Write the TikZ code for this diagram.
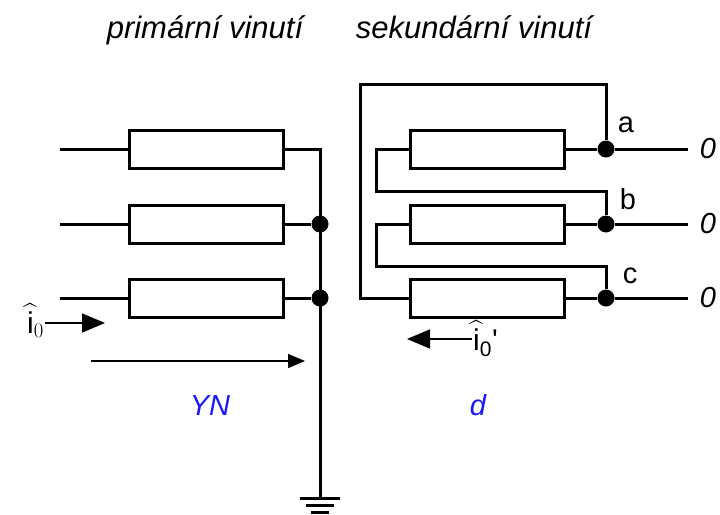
\documentclass[tikz,border=0pt]{standalone}
\usepackage{amsmath}
\usepackage{fontspec}
\setmainfont{Liberation Sans}
\usetikzlibrary{arrows.meta}
\definecolor{labelblue}{RGB}{25,25,245}

\tikzset{
  res/.style={draw, line width=3pt, minimum width=154pt, minimum height=38pt, inner sep=0pt},
  dot/.style={circle, fill, inner sep=0pt, minimum size=17pt},
  wire/.style={line width=3pt},
  flow/.style={line width=1.5pt, -{Triangle[length=23pt,width=19pt]}},
  thinflow/.style={line width=1.3pt, -{Triangle[length=17pt,width=14pt]}},
  lbl/.style={font=\fontsize{29}{34}\selectfont},
  ttl/.style={font=\fontsize{31}{36}\selectfont\itshape},
  cur/.style={font=\fontsize{30}{34}\selectfont, inner sep=1pt},
}

\begin{document}
\begin{tikzpicture}[x=1pt, y=-1pt]
    \useasboundingbox (0,0) rectangle (720,514);
    \node[ttl, anchor=base] (tprim) at (205,38) {primární vinutí};
    \node[ttl, anchor=base] (tsek) at (474,38) {sekundární vinutí};

    % primary winding YN
    \foreach \k/\y in {1/149,2/224,3/298} {
      \node[res] (p\k) at (206,\y) {};
      \coordinate (in\k) at (60,\y);
      \draw[wire] (in\k) -- (p\k.west);
    }
    \coordinate (n1) at (320,149);
    \node[dot] (n2) at (320,224) {};
    \node[dot] (n3) at (320,298) {};
    \coordinate (gnd) at (320,498);
    \draw[wire] (p1.east) -- (n1) -- (gnd);
    \draw[wire] (p2.east) -- (n2);
    \draw[wire] (p3.east) -- (n3);
    \draw[wire] ([xshift=-20pt]gnd) -- ([xshift=20pt]gnd);
    \draw[wire] ([xshift=-14pt,yshift=-7.5pt]gnd) -- ([xshift=14pt,yshift=-7.5pt]gnd);
    \draw[wire] ([xshift=-9pt,yshift=-14pt]gnd) -- ([xshift=9pt,yshift=-14pt]gnd);

    \node[cur, anchor=base east] (i0) at (45,333) {$\widehat{\mathrm{i}}_0$};
    \coordinate (i0tip) at (105,323);
    \draw[flow] (i0.east |- i0tip) -- (i0tip);
    \coordinate (ystart) at (91,361);
    \coordinate (yend) at (305,361);
    \draw[thinflow] (ystart) -- (yend);
    \node[lbl, text=labelblue, anchor=base] (yn) at (210,415) {\itshape YN};

    % secondary winding d
    \foreach \k/\y/\n in {1/149/a,2/224/b,3/298/c} {
      \node[res] (s\k) at (487,\y) {};
      \node[dot] (d\n) at (606,\y) {};
      \coordinate (o\n) at (688,\y);
      \node[lbl] (z\n) at (708,\y) {\itshape 0};
      \draw[wire] (s\k.east) -- (d\n) -- (o\n);
    }
    \coordinate (k1) at (376,191);
    \coordinate (k2) at (376,266);
    \coordinate (k3) at (360,84);
    \draw[wire] (s1.west) -| (k1) -| (db);
    \draw[wire] (s2.west) -| (k2) -| (dc);
    \draw[wire] (s3.west) -| (k3) -| (da);
    \node[lbl, anchor=base] (la) at (626,132) {a};
    \node[lbl, anchor=base] (lb) at (628,209) {b};
    \node[lbl, anchor=base] (lc) at (630,283) {c};

    \node[cur, anchor=base west] (i0s) at (472,350) {$\widehat{\textrm{i}}_{\textrm{0}}$\textquotesingle};
    \coordinate (i0stip) at (407,339);
    \draw[flow] (i0s.west |- i0stip) -- (i0stip);
    \node[lbl, text=labelblue, anchor=base] (dlab) at (478,415) {\itshape d};
\end{tikzpicture}
\end{document}
